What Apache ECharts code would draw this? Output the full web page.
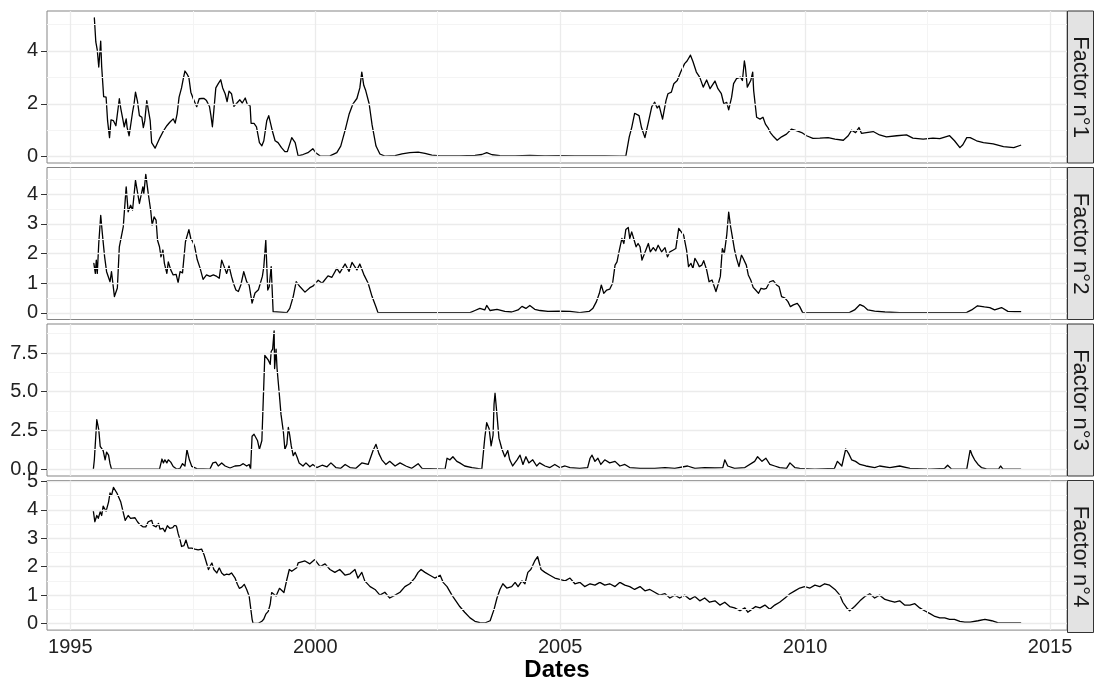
<!DOCTYPE html>
<html>
<head>
<meta charset="utf-8">
<script src="https://cdn.jsdelivr.net/npm/echarts@6/dist/echarts.min.js"></script>
<style>
html,body{margin:0;padding:0;background:#fff;}
#chart{width:1094px;height:683px;}
</style>
</head>
<body>
<div id="chart"></div>
<script>
// Factor series, [decimal year, value]
const factor1 = [[1995.49,5.25],[1995.52,4.34],[1995.55,4.03],[1995.58,3.39],[1995.62,4.37],[1995.64,3.40],[1995.68,2.27],[1995.73,2.25],[1995.76,1.36],[1995.80,0.72],[1995.83,1.39],[1995.88,1.36],[1995.93,1.17],[1995.96,1.10],[1996.00,2.19],[1996.03,1.82],[1996.07,1.43],[1996.10,1.13],[1996.14,1.43],[1996.16,1.10],[1996.20,0.79],[1996.27,1.68],[1996.30,1.99],[1996.33,2.44],[1996.37,2.10],[1996.41,1.55],[1996.46,1.49],[1996.49,1.10],[1996.52,1.36],[1996.56,2.12],[1996.59,2.19],[1996.63,1.36],[1996.66,0.53],[1996.73,0.32],[1996.76,0.37],[1996.83,0.72],[1996.90,0.97],[1996.97,1.17],[1997.03,1.30],[1997.10,1.43],[1997.14,1.27],[1997.18,1.62],[1997.22,2.25],[1997.27,2.60],[1997.31,2.99],[1997.34,3.24],[1997.39,3.10],[1997.42,2.99],[1997.46,2.44],[1997.51,2.19],[1997.58,1.89],[1997.63,2.19],[1997.68,2.20],[1997.73,2.20],[1997.78,2.12],[1997.84,1.90],[1997.87,1.55],[1997.90,1.13],[1997.93,1.75],[1997.97,2.60],[1998.02,2.76],[1998.07,2.91],[1998.11,2.60],[1998.16,2.38],[1998.20,2.08],[1998.24,2.48],[1998.29,2.38],[1998.34,1.90],[1998.41,2.05],[1998.46,2.15],[1998.51,2.03],[1998.57,2.22],[1998.61,1.99],[1998.67,1.92],[1998.69,1.26],[1998.75,1.26],[1998.80,1.13],[1998.86,0.53],[1998.91,0.41],[1998.95,0.60],[1999.01,1.36],[1999.05,1.55],[1999.09,1.24],[1999.13,0.93],[1999.18,0.60],[1999.24,0.53],[1999.31,0.34],[1999.38,0.19],[1999.43,0.19],[1999.52,0.72],[1999.59,0.53],[1999.65,0.03],[1999.75,0.08],[1999.85,0.15],[1999.95,0.30],[2000.01,0.15],[2000.10,0.02],[2000.30,0.03],[2000.44,0.15],[2000.52,0.40],[2000.61,1.00],[2000.69,1.60],[2000.77,2.00],[2000.85,2.20],[2000.91,2.60],[2000.95,3.20],[2000.99,2.70],[2001.03,2.50],[2001.10,2.00],[2001.16,1.20],[2001.24,0.40],[2001.32,0.10],[2001.42,0.02],[2001.63,0.04],[2001.77,0.10],[2001.93,0.15],[2002.10,0.17],[2002.24,0.12],[2002.38,0.06],[2002.55,0.03],[2002.95,0.03],[2003.26,0.05],[2003.40,0.08],[2003.50,0.15],[2003.61,0.07],[2003.77,0.04],[2004.08,0.03],[2004.38,0.05],[2004.69,0.03],[2004.99,0.04],[2005.30,0.03],[2005.61,0.03],[2005.91,0.03],[2006.22,0.02],[2006.34,0.02],[2006.41,0.75],[2006.46,1.10],[2006.52,1.64],[2006.61,1.55],[2006.66,1.10],[2006.73,0.72],[2006.80,1.30],[2006.87,1.89],[2006.93,2.06],[2006.98,1.84],[2007.02,1.93],[2007.09,1.42],[2007.16,2.12],[2007.20,2.38],[2007.27,2.44],[2007.32,2.76],[2007.39,2.88],[2007.46,3.20],[2007.54,3.52],[2007.59,3.62],[2007.66,3.84],[2007.71,3.60],[2007.78,3.20],[2007.85,3.00],[2007.92,2.63],[2007.99,2.90],[2008.06,2.57],[2008.16,2.86],[2008.22,2.57],[2008.29,2.38],[2008.34,2.00],[2008.40,2.05],[2008.44,1.77],[2008.50,2.25],[2008.54,2.76],[2008.60,2.95],[2008.68,3.01],[2008.72,2.88],[2008.76,3.62],[2008.78,3.40],[2008.82,2.63],[2008.86,2.70],[2008.89,2.88],[2008.93,3.20],[2008.95,2.50],[2009.01,1.49],[2009.08,1.42],[2009.14,1.49],[2009.19,1.23],[2009.24,1.10],[2009.29,0.91],[2009.36,0.75],[2009.43,0.62],[2009.52,0.75],[2009.62,0.85],[2009.72,1.04],[2009.82,0.98],[2009.93,0.91],[2010.03,0.79],[2010.16,0.69],[2010.30,0.70],[2010.47,0.72],[2010.61,0.66],[2010.78,0.62],[2010.88,0.79],[2010.95,1.00],[2011.03,0.91],[2011.10,1.10],[2011.15,0.88],[2011.25,0.91],[2011.39,0.95],[2011.52,0.82],[2011.66,0.75],[2011.87,0.79],[2012.07,0.82],[2012.20,0.70],[2012.41,0.66],[2012.61,0.70],[2012.75,0.68],[2012.95,0.79],[2013.05,0.60],[2013.16,0.34],[2013.22,0.45],[2013.30,0.72],[2013.37,0.72],[2013.50,0.60],[2013.64,0.53],[2013.84,0.48],[2014.05,0.38],[2014.26,0.34],[2014.40,0.43]];

const factor2 = [[1995.48,1.67],[1995.51,1.33],[1995.53,1.78],[1995.55,1.33],[1995.58,2.34],[1995.62,3.29],[1995.66,2.56],[1995.70,1.89],[1995.74,1.39],[1995.78,1.33],[1995.81,1.05],[1995.84,1.39],[1995.90,0.55],[1995.96,0.84],[1996.00,2.23],[1996.03,2.29],[1996.08,2.90],[1996.14,4.25],[1996.18,3.41],[1996.23,3.63],[1996.27,3.47],[1996.33,4.47],[1996.41,3.69],[1996.48,4.25],[1996.50,4.03],[1996.54,4.67],[1996.59,4.03],[1996.64,3.46],[1996.67,2.96],[1996.71,3.24],[1996.75,3.13],[1996.78,2.45],[1996.82,2.23],[1996.85,1.89],[1996.89,2.12],[1996.92,1.67],[1996.97,1.33],[1997.00,1.72],[1997.05,1.45],[1997.10,1.28],[1997.16,1.30],[1997.20,1.02],[1997.24,1.39],[1997.29,1.35],[1997.35,2.40],[1997.39,2.45],[1997.42,2.81],[1997.46,2.50],[1997.50,2.40],[1997.54,2.23],[1997.59,1.80],[1997.65,1.50],[1997.71,1.13],[1997.78,1.28],[1997.85,1.23],[1997.92,1.28],[1997.99,1.23],[1998.04,1.17],[1998.09,1.78],[1998.14,1.56],[1998.19,1.33],[1998.24,1.58],[1998.29,1.23],[1998.33,1.00],[1998.38,0.77],[1998.43,0.72],[1998.48,0.94],[1998.54,1.39],[1998.60,1.05],[1998.65,0.94],[1998.71,0.33],[1998.77,0.67],[1998.84,0.78],[1998.87,0.84],[1998.92,1.23],[1998.95,1.56],[1998.99,2.45],[1999.03,0.77],[1999.06,0.88],[1999.10,1.56],[1999.14,0.04],[1999.42,0.01],[1999.48,0.15],[1999.55,0.55],[1999.61,1.05],[1999.69,0.88],[1999.79,0.70],[1999.89,0.85],[1999.95,0.90],[2000.06,1.10],[2000.14,1.00],[2000.26,1.25],[2000.34,1.20],[2000.44,1.50],[2000.50,1.35],[2000.61,1.65],[2000.69,1.40],[2000.75,1.70],[2000.85,1.45],[2000.91,1.65],[2000.99,1.30],[2001.08,1.00],[2001.16,0.55],[2001.24,0.20],[2001.28,0.01],[2003.16,0.01],[2003.26,0.08],[2003.36,0.15],[2003.46,0.10],[2003.50,0.25],[2003.57,0.08],[2003.71,0.12],[2003.87,0.05],[2004.01,0.03],[2004.14,0.10],[2004.22,0.22],[2004.30,0.15],[2004.38,0.25],[2004.48,0.12],[2004.59,0.08],[2004.75,0.05],[2004.99,0.06],[2005.20,0.05],[2005.40,0.01],[2005.59,0.05],[2005.67,0.16],[2005.74,0.38],[2005.80,0.66],[2005.84,0.94],[2005.89,0.66],[2005.95,0.77],[2006.01,0.80],[2006.07,1.00],[2006.12,1.61],[2006.16,1.72],[2006.20,2.06],[2006.26,2.51],[2006.30,2.34],[2006.34,2.81],[2006.39,2.88],[2006.42,2.51],[2006.46,2.73],[2006.50,2.79],[2006.55,2.23],[2006.59,2.34],[2006.63,2.23],[2006.67,1.78],[2006.71,1.95],[2006.75,1.89],[2006.80,2.34],[2006.84,2.06],[2006.90,2.20],[2006.95,2.09],[2007.00,2.28],[2007.07,2.06],[2007.14,2.20],[2007.19,1.89],[2007.24,2.06],[2007.31,2.12],[2007.36,2.17],[2007.42,2.85],[2007.46,2.79],[2007.52,2.62],[2007.58,2.12],[2007.62,1.56],[2007.67,1.67],[2007.71,1.50],[2007.75,1.84],[2007.80,1.70],[2007.84,1.56],[2007.89,1.61],[2007.93,1.76],[2007.99,1.45],[2008.04,1.05],[2008.10,1.11],[2008.14,1.17],[2008.18,0.72],[2008.22,0.94],[2008.27,1.23],[2008.31,2.17],[2008.35,2.00],[2008.40,2.62],[2008.44,3.40],[2008.48,2.90],[2008.52,2.51],[2008.56,2.12],[2008.60,1.84],[2008.65,1.56],[2008.70,1.95],[2008.73,1.86],[2008.77,1.89],[2008.80,1.61],[2008.84,1.28],[2008.89,1.11],[2008.94,0.86],[2008.99,0.77],[2009.05,0.66],[2009.10,0.83],[2009.16,0.80],[2009.21,0.83],[2009.28,1.05],[2009.35,1.09],[2009.42,0.94],[2009.47,0.88],[2009.52,0.55],[2009.59,0.50],[2009.65,0.38],[2009.70,0.21],[2009.76,0.27],[2009.84,0.32],[2009.89,0.21],[2009.95,0.01],[2010.91,0.02],[2011.01,0.10],[2011.12,0.28],[2011.20,0.22],[2011.28,0.10],[2011.42,0.06],[2011.63,0.03],[2011.93,0.01],[2013.30,0.02],[2013.40,0.10],[2013.52,0.24],[2013.66,0.20],[2013.77,0.18],[2013.87,0.10],[2014.01,0.18],[2014.14,0.05],[2014.28,0.04],[2014.40,0.04]];

const factor3 = [[1995.47,0.00],[1995.49,0.60],[1995.51,0.60],[1995.54,3.20],[1995.58,2.55],[1995.61,1.47],[1995.64,1.40],[1995.67,1.20],[1995.71,0.60],[1995.74,1.10],[1995.78,0.90],[1995.81,0.35],[1995.84,0.00],[1996.82,0.00],[1996.87,0.65],[1996.90,0.40],[1996.93,0.60],[1996.97,0.40],[1997.00,0.60],[1997.05,0.45],[1997.10,0.17],[1997.17,0.00],[1997.24,0.05],[1997.29,0.35],[1997.34,0.20],[1997.38,1.25],[1997.40,1.36],[1997.43,0.60],[1997.48,0.17],[1997.58,0.03],[1997.85,0.00],[1997.91,0.40],[1997.97,0.45],[1998.02,0.20],[1998.09,0.40],[1998.16,0.20],[1998.26,0.07],[1998.36,0.20],[1998.46,0.22],[1998.53,0.35],[1998.60,0.20],[1998.65,0.30],[1998.68,0.00],[1998.71,2.12],[1998.75,2.25],[1998.78,2.20],[1998.82,1.85],[1998.86,1.27],[1998.91,1.85],[1998.94,1.90],[1998.97,7.35],[1999.01,7.27],[1999.04,7.05],[1999.08,6.77],[1999.10,7.60],[1999.13,7.75],[1999.16,8.93],[1999.17,6.50],[1999.20,7.75],[1999.22,6.50],[1999.27,4.71],[1999.30,3.55],[1999.35,2.38],[1999.38,1.27],[1999.42,1.60],[1999.45,2.70],[1999.48,2.16],[1999.51,1.50],[1999.55,0.87],[1999.59,1.08],[1999.63,0.76],[1999.67,0.40],[1999.75,0.20],[1999.81,0.40],[1999.89,0.15],[1999.95,0.30],[2000.03,0.10],[2000.14,0.25],[2000.24,0.15],[2000.32,0.40],[2000.42,0.10],[2000.52,0.05],[2000.61,0.30],[2000.71,0.10],[2000.83,0.05],[2000.95,0.40],[2001.08,0.30],[2001.18,1.20],[2001.24,1.60],[2001.30,1.00],[2001.36,0.60],[2001.44,0.30],[2001.52,0.50],[2001.63,0.20],[2001.73,0.40],[2001.85,0.20],[2001.97,0.05],[2002.10,0.35],[2002.18,0.05],[2002.65,0.00],[2002.69,0.70],[2002.75,0.60],[2002.81,0.80],[2002.89,0.50],[2002.95,0.40],[2003.05,0.20],[2003.20,0.10],[2003.40,0.00],[2003.46,2.00],[2003.50,3.00],[2003.55,2.60],[2003.59,1.50],[2003.63,2.20],[2003.65,4.20],[2003.67,4.90],[2003.71,3.50],[2003.75,2.00],[2003.81,1.30],[2003.87,0.80],[2003.93,1.20],[2003.97,0.60],[2004.03,0.20],[2004.12,0.60],[2004.18,0.90],[2004.24,0.30],[2004.30,0.80],[2004.36,0.40],[2004.44,0.60],[2004.52,0.20],[2004.58,0.40],[2004.69,0.20],[2004.79,0.10],[2004.89,0.30],[2004.99,0.10],[2005.10,0.20],[2005.20,0.10],[2005.40,0.05],[2005.56,0.10],[2005.61,0.70],[2005.65,0.90],[2005.71,0.50],[2005.77,0.70],[2005.83,0.30],[2005.91,0.60],[2006.01,0.40],[2006.12,0.50],[2006.22,0.20],[2006.32,0.30],[2006.42,0.10],[2006.63,0.05],[2006.93,0.05],[2007.14,0.10],[2007.34,0.05],[2007.60,0.20],[2007.75,0.05],[2007.95,0.10],[2008.16,0.08],[2008.32,0.10],[2008.36,0.60],[2008.42,0.20],[2008.56,0.05],[2008.77,0.10],[2008.97,0.50],[2009.03,0.80],[2009.12,0.50],[2009.20,0.70],[2009.28,0.30],[2009.38,0.20],[2009.48,0.10],[2009.62,0.05],[2009.69,0.40],[2009.79,0.10],[2009.89,0.05],[2010.20,0.00],[2010.60,0.05],[2010.66,0.50],[2010.75,0.20],[2010.83,1.30],[2010.89,1.00],[2010.95,0.60],[2011.03,0.50],[2011.12,0.30],[2011.24,0.20],[2011.42,0.10],[2011.52,0.20],[2011.73,0.10],[2011.93,0.20],[2012.14,0.05],[2012.55,0.00],[2012.85,0.05],[2012.91,0.25],[2012.99,0.00],[2013.30,0.00],[2013.37,1.25],[2013.41,0.90],[2013.46,0.60],[2013.53,0.30],[2013.60,0.10],[2013.70,0.02],[2013.95,0.00],[2013.99,0.20],[2014.04,0.00],[2014.40,0.00]];

const factor4 = [[1995.47,3.95],[1995.50,3.58],[1995.54,3.80],[1995.57,3.70],[1995.61,3.93],[1995.64,3.80],[1995.67,4.13],[1995.73,3.95],[1995.78,4.27],[1995.81,4.59],[1995.84,4.50],[1995.88,4.79],[1995.91,4.73],[1995.95,4.59],[1995.98,4.56],[1996.03,4.27],[1996.07,3.98],[1996.12,3.63],[1996.15,3.60],[1996.18,3.80],[1996.23,3.70],[1996.27,3.63],[1996.32,3.72],[1996.37,3.58],[1996.42,3.48],[1996.48,3.40],[1996.54,3.40],[1996.59,3.58],[1996.66,3.63],[1996.69,3.45],[1996.75,3.40],[1996.80,3.52],[1996.83,3.32],[1996.89,3.35],[1996.93,3.23],[1996.98,3.44],[1997.03,3.35],[1997.09,3.37],[1997.14,3.48],[1997.17,3.40],[1997.20,3.17],[1997.24,2.94],[1997.27,2.71],[1997.32,2.74],[1997.36,2.94],[1997.41,2.65],[1997.48,2.65],[1997.54,2.62],[1997.61,2.59],[1997.68,2.62],[1997.73,2.42],[1997.77,2.19],[1997.82,1.90],[1997.85,2.01],[1997.89,2.13],[1997.93,1.90],[1997.99,1.78],[1998.04,1.96],[1998.09,1.78],[1998.14,1.70],[1998.19,1.74],[1998.24,1.72],[1998.29,1.78],[1998.36,1.61],[1998.41,1.38],[1998.45,1.24],[1998.50,1.28],[1998.55,1.38],[1998.60,1.20],[1998.65,0.97],[1998.68,0.57],[1998.71,0.16],[1998.73,0.01],[1998.84,0.01],[1998.91,0.08],[1998.95,0.16],[1998.99,0.33],[1999.04,0.43],[1999.08,0.68],[1999.11,1.09],[1999.14,1.03],[1999.20,0.97],[1999.27,1.24],[1999.31,1.26],[1999.36,1.09],[1999.42,1.55],[1999.47,1.90],[1999.52,1.84],[1999.57,1.90],[1999.62,1.96],[1999.65,2.13],[1999.79,2.20],[1999.89,2.10],[1999.99,2.25],[2000.10,2.00],[2000.20,2.10],[2000.30,1.90],[2000.40,1.80],[2000.50,1.90],[2000.61,1.70],[2000.71,1.75],[2000.81,1.90],[2000.87,1.60],[2000.95,1.80],[2001.01,1.50],[2001.12,1.30],[2001.22,1.20],[2001.32,1.00],[2001.42,1.10],[2001.52,0.90],[2001.63,1.00],[2001.73,1.10],[2001.83,1.30],[2001.93,1.40],[2002.03,1.60],[2002.10,1.80],[2002.16,1.90],[2002.24,1.80],[2002.34,1.70],[2002.44,1.60],[2002.55,1.70],[2002.61,1.45],[2002.69,1.30],[2002.79,1.00],[2002.87,0.80],[2002.95,0.60],[2003.05,0.40],[2003.16,0.20],[2003.26,0.08],[2003.36,0.03],[2003.46,0.02],[2003.57,0.10],[2003.65,0.50],[2003.71,0.90],[2003.77,1.20],[2003.83,1.40],[2003.91,1.25],[2004.01,1.30],[2004.08,1.45],[2004.14,1.30],[2004.22,1.50],[2004.28,1.40],[2004.34,1.80],[2004.40,1.90],[2004.48,2.20],[2004.54,2.35],[2004.61,1.90],[2004.69,1.80],[2004.79,1.70],[2004.89,1.60],[2004.99,1.55],[2005.10,1.50],[2005.20,1.60],[2005.30,1.40],[2005.40,1.45],[2005.50,1.30],[2005.61,1.40],[2005.71,1.35],[2005.81,1.45],[2005.91,1.35],[2006.01,1.40],[2006.12,1.30],[2006.22,1.45],[2006.32,1.35],[2006.42,1.30],[2006.52,1.20],[2006.63,1.30],[2006.73,1.15],[2006.83,1.20],[2006.93,1.10],[2007.03,1.00],[2007.14,1.05],[2007.24,0.90],[2007.34,1.00],[2007.44,0.90],[2007.54,1.00],[2007.65,0.85],[2007.75,0.95],[2007.85,0.80],[2007.95,0.90],[2008.05,0.75],[2008.16,0.80],[2008.26,0.65],[2008.36,0.75],[2008.46,0.60],[2008.56,0.55],[2008.67,0.45],[2008.77,0.55],[2008.83,0.40],[2008.91,0.50],[2008.99,0.60],[2009.08,0.55],[2009.18,0.65],[2009.28,0.50],[2009.38,0.65],[2009.48,0.75],[2009.59,0.90],[2009.69,1.05],[2009.79,1.15],[2009.89,1.25],[2009.99,1.30],[2010.10,1.25],[2010.20,1.35],[2010.30,1.30],[2010.40,1.40],[2010.50,1.35],[2010.61,1.20],[2010.71,1.00],[2010.77,0.75],[2010.85,0.55],[2010.91,0.45],[2011.01,0.60],[2011.12,0.80],[2011.22,0.95],[2011.32,1.05],[2011.42,0.90],[2011.52,1.00],[2011.63,0.85],[2011.73,0.80],[2011.83,0.75],[2011.93,0.80],[2012.03,0.65],[2012.14,0.65],[2012.24,0.70],[2012.34,0.55],[2012.44,0.45],[2012.55,0.35],[2012.65,0.25],[2012.75,0.20],[2012.85,0.20],[2012.95,0.15],[2013.05,0.15],[2013.16,0.08],[2013.26,0.05],[2013.37,0.05],[2013.53,0.10],[2013.67,0.15],[2013.81,0.10],[2013.93,0.03],[2014.18,0.02],[2014.40,0.02]];

const factors = [factor1, factor2, factor3, factor4];
const stripLabels = ['Factor n°1', 'Factor n°2', 'Factor n°3', 'Factor n°4'];

// Axis breaks
const xTicks = [1995, 2000, 2005, 2010, 2015];
const xMinor = [1997.5, 2002.5, 2007.5, 2012.5];
const yTicks = [[0, 2, 4], [0, 1, 2, 3, 4], [0, 2.5, 5, 7.5], [0, 1, 2, 3, 4, 5]];
const yMinor = [[1, 3, 5], [0.5, 1.5, 2.5, 3.5, 4.5], [1.25, 3.75, 6.25, 8.75], [0.5, 1.5, 2.5, 3.5, 4.5]];
const yDigits = [0, 0, 1, 0];

// Panel layout
const FONT = '"Liberation Sans", Arial, Helvetica, sans-serif';
const plotLeft = 47, plotRight = 1067, stripW = 26;
const panelTops = [11, 167.5, 324, 480.5];
const panelH = 152;

// ggplot-style 5% expansion of the data range
function expand(lo, hi) { const d = (hi - lo) * 0.05; return [lo - d, hi + d]; }
const allX = factors.flat().map(p => p[0]);
const xRange = expand(Math.min(...allX), Math.max(...allX));
const yRanges = factors.map(f => {
  const ys = f.map(p => p[1]);
  return expand(Math.min(...ys), Math.max(...ys));
});

const majorStyle = { color: '#ebebeb', width: 1.3, type: 'solid' };
const minorStyle = { color: '#f4f4f4', width: 1, type: 'solid' };

const grids = [], xAxes = [], yAxes = [], series = [], graphics = [];
factors.forEach((data, i) => {
  const last = i === factors.length - 1;
  grids.push({
    left: plotLeft, width: plotRight - plotLeft, top: panelTops[i], height: panelH,
    show: true, borderColor: '#858585', borderWidth: 1, backgroundColor: '#fff'
  });
  xAxes.push({
    type: 'value', gridIndex: i, min: xRange[0], max: xRange[1],
    axisLine: { show: false }, splitLine: { show: false },
    axisTick: { show: last, customValues: xTicks, length: 6, lineStyle: { color: '#333', width: 1 } },
    axisLabel: {
      show: last, customValues: xTicks, margin: 7, fontSize: 20, color: '#222', fontFamily: FONT,
      formatter: v => String(Math.round(v))
    },
    name: last ? 'Dates' : '', nameLocation: 'middle', nameGap: 24,
    nameTextStyle: { fontSize: 24, fontWeight: 'bold', color: '#000', fontFamily: FONT }
  });
  yAxes.push({
    type: 'value', gridIndex: i, min: yRanges[i][0], max: yRanges[i][1],
    axisLine: { show: false }, splitLine: { show: false },
    axisTick: { show: true, customValues: yTicks[i], length: 6, lineStyle: { color: '#333', width: 1 } },
    axisLabel: {
      customValues: yTicks[i], margin: 9, fontSize: 20, color: '#222', fontFamily: FONT,
      formatter: v => Number(v).toFixed(yDigits[i])
    }
  });
  // panel grid lines at the axis breaks
  const lines = [];
  yMinor[i].forEach(v => lines.push({ yAxis: v, lineStyle: minorStyle }));
  xMinor.forEach(v => lines.push({ xAxis: v, lineStyle: minorStyle }));
  yTicks[i].forEach(v => lines.push({ yAxis: v, lineStyle: majorStyle }));
  xTicks.forEach(v => lines.push({ xAxis: v, lineStyle: majorStyle }));
  series.push({
    type: 'line', xAxisIndex: i, yAxisIndex: i, data: [], z: 1, silent: true,
    markLine: { symbol: 'none', silent: true, animation: false, label: { show: false }, data: lines }
  });
  series.push({
    type: 'line', xAxisIndex: i, yAxisIndex: i, data: data, z: 3,
    showSymbol: false, symbol: 'none', silent: true, sampling: null,
    lineStyle: { color: '#000', width: 1.3, join: 'round', cap: 'round' }
  });
  // facet strip on the right
  graphics.push({
    type: 'rect', z: 10,
    shape: { x: plotRight + 0.5, y: panelTops[i], width: stripW, height: panelH },
    style: { fill: '#e3e3e3', stroke: '#333', lineWidth: 1 }
  });
  graphics.push({
    type: 'text', z: 11,
    x: plotRight + 0.5 + stripW / 2, y: panelTops[i] + panelH / 2,
    rotation: -Math.PI / 2,
    style: {
      text: stripLabels[i], fontSize: 22, fontFamily: FONT, fill: '#1a1a1a',
      align: 'center', verticalAlign: 'middle', textAlign: 'center', textVerticalAlign: 'middle'
    }
  });
});

const chart = echarts.init(document.getElementById('chart'), null, { renderer: 'canvas' });
chart.setOption({
  animation: false,
  backgroundColor: '#fff',
  textStyle: { fontFamily: FONT },
  grid: grids,
  xAxis: xAxes,
  yAxis: yAxes,
  series: series,
  graphic: graphics
});
</script>
</body>
</html>
